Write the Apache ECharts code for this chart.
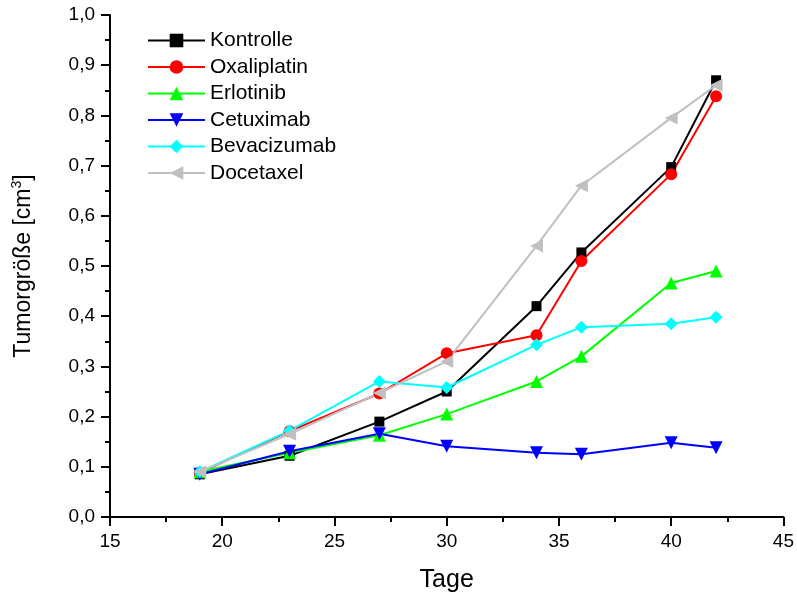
<!DOCTYPE html>
<html><head><meta charset="utf-8">
<script src="https://cdn.jsdelivr.net/npm/echarts@6/dist/echarts.min.js"></script>
<style>html,body{margin:0;padding:0;background:#fff}#c{width:797px;height:598px}</style>
</head><body><div id="c"></div>
<script>
const days = [19, 23, 27, 30, 34, 36, 40, 42];
const kontrolle   = [0.085, 0.122, 0.190, 0.250, 0.420, 0.527, 0.697, 0.870];
const oxaliplatin = [0.088, 0.171, 0.246, 0.326, 0.362, 0.510, 0.683, 0.838];
const erlotinib   = [0.090, 0.128, 0.163, 0.205, 0.270, 0.320, 0.466, 0.490];
const cetuximab   = [0.085, 0.131, 0.166, 0.141, 0.128, 0.125, 0.148, 0.138];
const bevacizumab = [0.090, 0.172, 0.270, 0.258, 0.343, 0.378, 0.385, 0.398];
const docetaxel   = [0.090, 0.165, 0.247, 0.310, 0.540, 0.660, 0.795, 0.860];

const F = '"Liberation Sans", Arial, sans-serif';
function mk(name, vals, color, symbol, rot, size) {
  return {
    name, type: 'line', data: days.map((d, i) => [d, vals[i]]),
    symbol, symbolSize: size || 11, symbolRotate: rot || 0,
    lineStyle: { color, width: 2 }, itemStyle: { color },
    showAllSymbol: true
  };
}
const axisCol = { color: '#000', width: 2 };
const chart = echarts.init(document.getElementById('c'), null, { renderer: 'canvas' });
chart.setOption({
  animation: false,
  backgroundColor: '#fff',
  grid: { left: 110, right: 13, top: 15, bottom: 79, containLabel: false },
  legend: {
    left: 142, top: 25, orient: 'vertical', itemWidth: 57, itemHeight: 17, itemGap: 5.5,
    textStyle: { fontFamily: F, fontSize: 21, lineHeight: 21, color: '#000' },
    data: ['Kontrolle', 'Oxaliplatin', 'Erlotinib', 'Cetuximab', 'Bevacizumab', 'Docetaxel']
  },
  xAxis: {
    type: 'value', min: 15, max: 45, interval: 5,
    name: 'Tage', nameLocation: 'middle', nameGap: 51,
    nameTextStyle: { fontFamily: F, fontSize: 25, color: '#000' },
    axisLine: { lineStyle: axisCol },
    axisTick: { inside: false, length: 9, lineStyle: axisCol },
    minorTick: { show: true, splitNumber: 2, length: 5, lineStyle: axisCol },
    axisLabel: { fontFamily: F, fontSize: 19, color: '#000', margin: 15 },
    splitLine: { show: false }
  },
  yAxis: {
    type: 'value', min: 0, max: 1, interval: 0.1,
    name: '{a|Tumorgröße [cm}{s|3}{a|]}', nameLocation: 'middle', nameGap: 72, nameRotate: 90,
    nameTextStyle: { rich: {
      a: { fontFamily: F, fontSize: 23, color: '#000' },
      s: { fontFamily: F, fontSize: 14, color: '#000', verticalAlign: 'top', padding: [0, 0, 14, 0] } } },
    axisLine: { show: true, lineStyle: axisCol },
    axisTick: { show: true, inside: false, length: 9, lineStyle: axisCol },
    minorTick: { show: true, splitNumber: 2, length: 5, lineStyle: axisCol },
    axisLabel: { fontFamily: F, fontSize: 19, color: '#000', margin: 15,
      formatter: v => v.toFixed(1).replace('.', ',') },
    splitLine: { show: false }
  },
  series: [
    mk('Kontrolle', kontrolle, '#000000', 'rect', 0, 10),
    mk('Oxaliplatin', oxaliplatin, '#ff0000', 'circle', 0, 12),
    mk('Erlotinib', erlotinib, '#00ff00', 'triangle', 0, 13),
    mk('Cetuximab', cetuximab, '#0000ff', 'triangle', 180, 13),
    mk('Bevacizumab', bevacizumab, '#00ffff', 'diamond', 0, 13),
    mk('Docetaxel', docetaxel, '#c0c0c0', 'triangle', 90, 13)
  ]
});
</script></body></html>
